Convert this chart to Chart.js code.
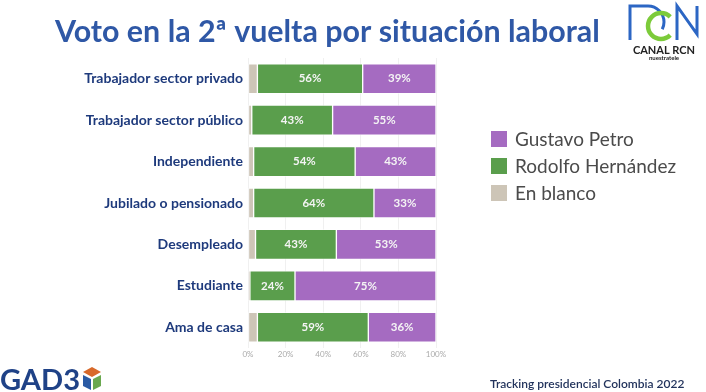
<!DOCTYPE html>
<html lang="es">
<head>
<meta charset="UTF-8" />
<title>Voto en la 2ª vuelta por situación laboral</title>
<script src="https://cdn.jsdelivr.net/npm/chart.js@4.4.0/dist/chart.umd.min.js"></script>
<style>
  html, body { margin: 0; padding: 0; background: #fff; }
  canvas { display: block; }
</style>
</head>
<body>
<canvas id="chart" width="706" height="392"></canvas>
<script>
const categories = [
  'Trabajador sector privado',
  'Trabajador sector público',
  'Independiente',
  'Jubilado o pensionado',
  'Desempleado',
  'Estudiante',
  'Ama de casa'
];
const enBlanco = [5, 2, 3, 3, 4, 1, 5];
const hernandez = [56, 43, 54, 64, 43, 24, 59];
const petro = [39, 55, 43, 33, 53, 75, 36];
const xTicks = ['0%', '20%', '40%', '60%', '80%', '100%'];

const title = 'Voto en la 2ª vuelta por situación laboral';
const footer = 'Tracking presidencial Colombia 2022';
const legendOrder = [2, 1, 0]; // Petro, Hernández, En blanco

const FONT = 'Lato, "Open Sans", sans-serif';

function fitFont(ctx, text, weight, target) {
  ctx.font = weight + ' 20px ' + FONT;
  const size = 20 * target / ctx.measureText(text).width;
  ctx.font = weight + ' ' + size.toFixed(1) + 'px ' + FONT;
}

// title, legend, bar labels, logos
const decor = {
  id: 'decor',
  afterDatasetsDraw(chart) {
    const ctx = chart.ctx;
    ctx.save();

    // values inside bars
    ctx.font = 'bold 11.5px ' + FONT;
    ctx.fillStyle = '#f4f4f4';
    ctx.textAlign = 'center';
    ctx.textBaseline = 'middle';
    [1, 2].forEach(di => {
      const meta = chart.getDatasetMeta(di);
      meta.data.forEach((bar, i) => {
        const v = chart.data.datasets[di].data[i];
        ctx.fillText(v + '%', (bar.x + bar.base) / 2, bar.y);
      });
    });

    // title
    fitFont(ctx, title, 'bold', 545);
    ctx.fillStyle = '#2f58a6';
    ctx.textAlign = 'left';
    ctx.fillText(title, 55, 32);

    // legend
    ctx.font = '19px ' + FONT;
    legendOrder.forEach((di, k) => {
      const ds = chart.data.datasets[di];
      const y = 139 + k * 27;
      ctx.fillStyle = ds.backgroundColor;
      ctx.fillRect(491, y - 8, 16, 16);
      ctx.fillStyle = '#4b4b4b';
      ctx.fillText(ds.label, 515, y + 1);
    });

    // footer
    ctx.font = '600 12px ' + FONT;
    ctx.fillStyle = '#22335c';
    ctx.fillText(footer, 490, 384);

    // GAD3 logo
    fitFont(ctx, 'GAD3', 'bold', 80);
    ctx.fillStyle = '#1f4287';
    ctx.textBaseline = 'alphabetic';
    ctx.fillText('GAD3', 0, 390);
    ctx.textBaseline = 'middle';
    const gx = 83, gy = 378;
    ctx.fillStyle = '#d8692a';
    ctx.beginPath();
    ctx.moveTo(gx, gy - 6); ctx.lineTo(gx + 9, gy - 11); ctx.lineTo(gx + 18, gy - 6); ctx.lineTo(gx + 9, gy - 1);
    ctx.closePath(); ctx.fill();
    ctx.fillStyle = '#2a5aa4';
    ctx.beginPath();
    ctx.moveTo(gx, gy - 3); ctx.lineTo(gx + 8, gy + 1); ctx.lineTo(gx + 8, gy + 12); ctx.lineTo(gx, gy + 8);
    ctx.closePath(); ctx.fill();
    ctx.fillStyle = '#6aa84f';
    ctx.beginPath();
    ctx.moveTo(gx + 18, gy - 3); ctx.lineTo(gx + 10, gy + 1); ctx.lineTo(gx + 10, gy + 12); ctx.lineTo(gx + 18, gy + 8);
    ctx.closePath(); ctx.fill();

    // RCN logo
    ctx.strokeStyle = '#2c66c4';
    ctx.lineWidth = 3;
    ctx.beginPath();
    ctx.moveTo(630, 40); ctx.lineTo(630, 6); ctx.lineTo(648, 6);
    ctx.arc(648, 22, 16, -Math.PI / 2, 0.15 * Math.PI);
    ctx.moveTo(677, 40); ctx.lineTo(677, 6); ctx.lineTo(697, 34); ctx.lineTo(697, 6);
    ctx.stroke();
    ctx.strokeStyle = '#7ccb3a';
    ctx.lineWidth = 4.5;
    ctx.beginPath();
    ctx.arc(661, 26, 13, 0.25 * Math.PI, 1.75 * Math.PI);
    ctx.stroke();
    ctx.fillStyle = '#222';
    ctx.font = 'bold 11px ' + FONT;
    ctx.textAlign = 'center';
    ctx.fillText('CANAL RCN', 664, 50);
    ctx.font = 'bold 6px ' + FONT;
    ctx.fillText('nuestratele', 664, 58);

    ctx.restore();
  }
};

new Chart(document.getElementById('chart'), {
  type: 'bar',
  data: {
    labels: categories,
    datasets: [
      { label: 'En blanco', data: enBlanco, backgroundColor: '#cdc5b7' },
      { label: 'Rodolfo Hernández', data: hernandez, backgroundColor: '#5a9e4c' },
      { label: 'Gustavo Petro', data: petro, backgroundColor: '#a56bc1' }
    ]
  },
  options: {
    indexAxis: 'y',
    responsive: false,
    animation: false,
    layout: { padding: { top: 58, right: 270, bottom: 30, left: 0 } },
    datasets: {
      bar: { barThickness: 30, borderWidth: 1, borderColor: 'rgba(255,255,255,0.5)', borderSkipped: false }
    },
    scales: {
      x: {
        stacked: true,
        min: 0,
        max: 100,
        ticks: {
          stepSize: 20,
          color: '#aaa',
          font: { size: 8, family: FONT },
          padding: 2,
          callback: (v, i) => xTicks[i]
        },
        grid: { color: '#f0f0f0', drawTicks: false },
        border: { display: false },
        afterFit: s => { s.height = 14; }
      },
      y: {
        stacked: true,
        ticks: {
          color: '#1e3a7c',
          font: { size: 14, weight: 'bold', family: FONT },
          padding: 5
        },
        grid: { display: false, drawTicks: false },
        border: { display: false },
        afterFit: s => { s.width = 248; }
      }
    },
    plugins: {
      legend: { display: false },
      tooltip: { enabled: false }
    }
  },
  plugins: [decor]
});
</script>
</body>
</html>
